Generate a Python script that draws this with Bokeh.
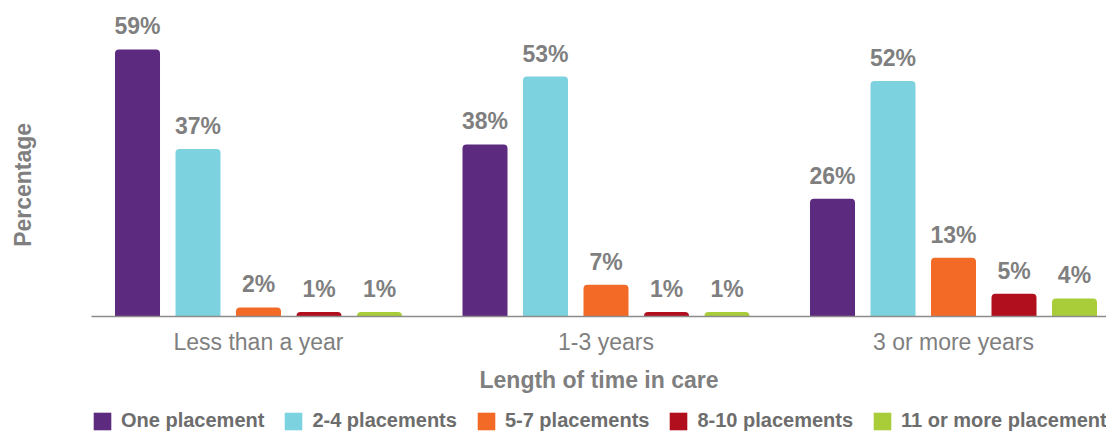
from bokeh.plotting import figure
from bokeh.layouts import column
from bokeh.models import ColumnDataSource, LabelSet, Legend, LegendItem, FixedTicker
from bokeh.core.properties import value
from bokeh.embed import file_html
from bokeh.resources import INLINE

categories = ["Less than a year", "1-3 years", "3 or more years"]
series = ["One placement", "2-4 placements", "5-7 placements", "8-10 placements", "11 or more placements"]
one_placement = [59, 38, 26]
two_four_placements = [37, 53, 52]
five_seven_placements = [2, 7, 13]
eight_ten_placements = [1, 1, 5]
eleven_plus_placements = [1, 1, 4]
colors = ["#5c2a7e", "#7dd2e0", "#f26a26", "#b20f1e", "#a9cd38"]

values = [one_placement, two_four_placements, five_seven_placements,
          eight_ten_placements, eleven_plus_placements]

FONT = "Liberation Sans"
GRAY = "#7f7f7f"
STEP = 0.1741
BAR_W = 0.1295

p = figure(frame_width=1015, frame_height=308,
           x_range=(0.0194, 2.9403), y_range=(0, 68.04),
           output_backend="svg", toolbar_location=None,
           min_border_left=91, min_border_right=0, min_border_top=8, min_border_bottom=78)
p.outline_line_color = None
p.xgrid.grid_line_color = None
p.ygrid.grid_line_color = None

centers = [i + 0.5 for i in range(len(categories))]
lab_x, lab_y, lab_t = [], [], []
for j, (name, vals, col) in enumerate(zip(series, values, colors)):
    xs = [c + (j - 2) * STEP for c in centers]
    src = ColumnDataSource(dict(x=xs, top=vals))
    p.vbar(x="x", top="top", bottom=0, width=BAR_W, source=src,
           fill_color=col, line_color=None, border_radius=(4, 4, 0, 0))
    lab_x += xs
    lab_y += vals
    lab_t += [f"{v}%" for v in vals]

lsrc = ColumnDataSource(dict(x=lab_x, y=lab_y, t=lab_t))
labels = LabelSet(x="x", y="y", text="t", source=lsrc, y_offset=10,
                  text_align="center", text_baseline="bottom",
                  text_font=value(FONT), text_font_size=value("23px"),
                  text_font_style=value("bold"), text_color=value(GRAY))
p.add_layout(labels)

# x axis
p.xaxis.ticker = FixedTicker(ticks=centers)
p.xaxis.major_label_overrides = {c: cat for c, cat in zip(centers, categories)}
p.xaxis.axis_label = "Length of time in care"
p.xaxis.axis_label_text_font = FONT
p.xaxis.axis_label_text_font_style = "bold"
p.xaxis.axis_label_text_font_size = "23px"
p.xaxis.axis_label_text_color = GRAY
p.xaxis.axis_label_standoff = 9
p.xaxis.major_label_text_font = FONT
p.xaxis.major_label_text_font_size = "23px"
p.xaxis.major_label_text_color = GRAY
p.xaxis.major_label_standoff = 12
p.xaxis.major_tick_line_color = None
p.xaxis.minor_tick_line_color = None
p.xaxis.major_tick_out = 0
p.xaxis.major_tick_in = 0
p.xaxis.axis_line_color = "#8c8c8c"
p.xaxis.axis_line_width = 1.5

# y axis (title only); trailing no-break spaces shift the visible word down
p.yaxis.ticker = FixedTicker(ticks=[])
p.yaxis.axis_label = "Percentage" + "\u00a0" * 7
p.yaxis.axis_label_text_font = FONT
p.yaxis.axis_label_text_font_style = "bold"
p.yaxis.axis_label_text_font_size = "23px"
p.yaxis.axis_label_text_color = GRAY
p.yaxis.axis_label_standoff = 56
p.yaxis.axis_line_color = None
p.yaxis.major_tick_line_color = None
p.yaxis.minor_tick_line_color = None
p.yaxis.major_tick_out = 0
p.yaxis.major_label_standoff = 0

# legend strip below the chart
leg = figure(width=1106, height=38, x_range=(0, 1), y_range=(0, 1),
             output_backend="svg", toolbar_location=None,
             x_axis_location=None, y_axis_location=None,
             min_border_left=0, min_border_right=0, min_border_top=0, min_border_bottom=0)
leg.outline_line_color = None
leg.xgrid.grid_line_color = None
leg.ygrid.grid_line_color = None
items = []
for name, col in zip(series, colors):
    # legend-only swatch renderer with zero height (draws nothing in the strip)
    r = leg.vbar(x=[-1], top=[0], bottom=0, width=0.1, fill_color=col, line_color=None)
    items.append(LegendItem(label=name, renderers=[r]))
legend = Legend(items=items, orientation="horizontal", location=(0, 1),
                glyph_width=22, glyph_height=22, label_standoff=8, spacing=18,
                padding=0, margin=0, border_line_color=None, background_fill_alpha=0,
                label_text_font=FONT, label_text_font_size="20px",
                label_text_font_style="bold", label_text_color="#6d6d6d")
leg.add_layout(legend)

layout = column(p, leg, spacing=0)
open("out.html", "w").write(file_html(layout, INLINE))
